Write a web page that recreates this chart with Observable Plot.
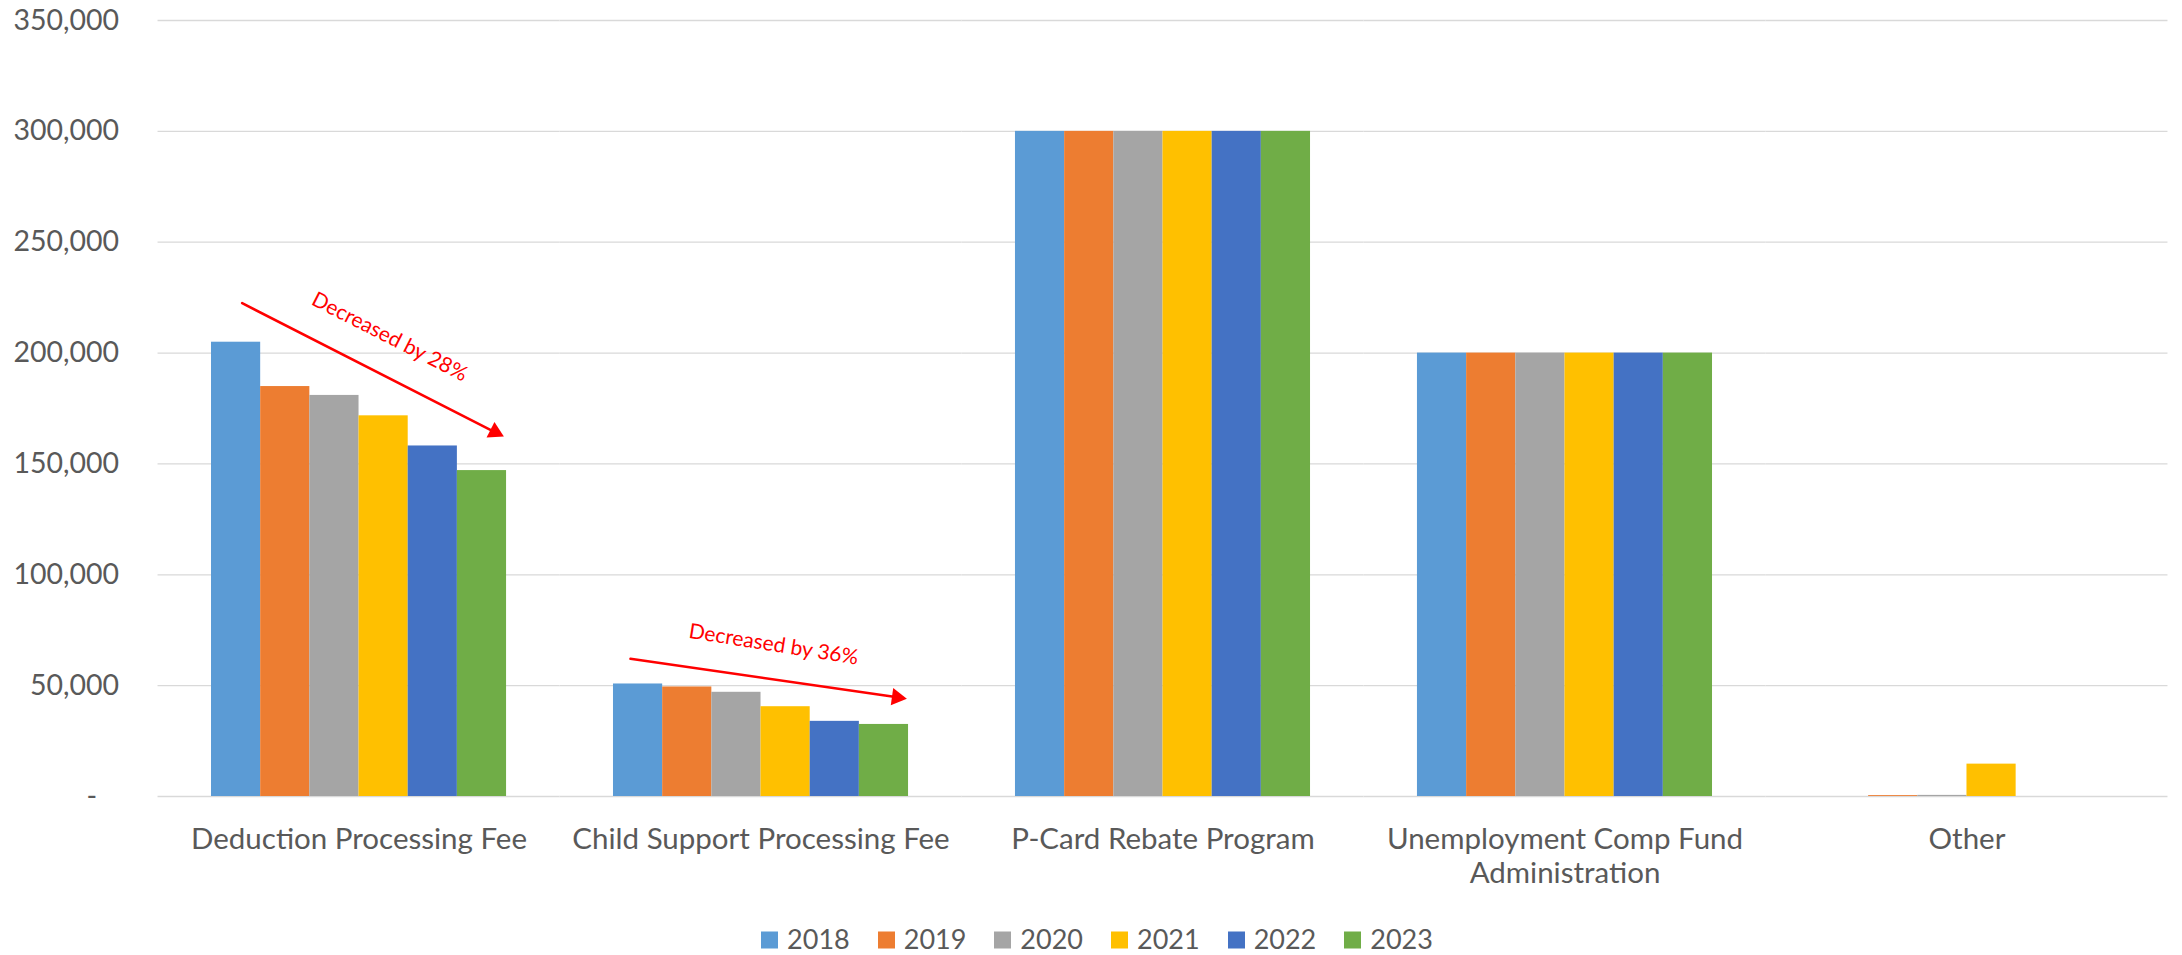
<!DOCTYPE html>
<html>
<head>
<meta charset="utf-8">
<script src="https://cdn.jsdelivr.net/npm/d3@7"></script>
<script src="https://cdn.jsdelivr.net/npm/@observablehq/plot@0.6"></script>
<style>
  html, body { margin: 0; padding: 0; background: #ffffff; }
  #chart svg { display: block; }
  .lg-swatches {
    font-family: Lato, sans-serif !important;
    font-size: 27px !important;
    color: #595959 !important;
    justify-content: center !important;
    margin: 22px 0 0 0 !important;
    padding-left: 12px;
    min-height: 33px;
  }
  .lg-swatch { margin-right: 28px !important; }
  .lg-swatch:last-child { margin-right: 0 !important; }
  .lg-swatch > svg { margin-right: 9px !important; transform: translateY(1.5px); }
</style>
</head>
<body>
<div id="chart"></div>
<script>
// ---- data ----
const categories = [
  "Deduction Processing Fee",
  "Child Support Processing Fee",
  "P-Card Rebate Program",
  "Unemployment Comp Fund Administration",
  "Other"
];
const categoryLabels = [
  "Deduction Processing Fee",
  "Child Support Processing Fee",
  "P-Card Rebate Program",
  "Unemployment Comp Fund\nAdministration",
  "Other"
];
const years = ["2018", "2019", "2020", "2021", "2022", "2023"];
const colors = ["#5B9BD5", "#ED7D31", "#A5A5A5", "#FFC000", "#4472C4", "#70AD47"];

const deductionFee    = [204900, 184900, 180900, 171700, 158100, 147000];
const childSupportFee = [50750, 49400, 47000, 40500, 33900, 32500];
const pCardRebate     = [300000, 300000, 300000, 300000, 300000, 300000];
const unemployment    = [200000, 200000, 200000, 200000, 200000, 200000];
const other           = [0, 400, 500, 14600, 0, 0];

const yTicks = [0, 50000, 100000, 150000, 200000, 250000, 300000, 350000];

const annotationLabels = ["Decreased by 28%", "Decreased by 36%"];
const annotationCategory = [categories[0], categories[1]];
const annotationStartValue = [223900, 61600];
const annotationEndValue = [167300, 45600];
const annotationHeadValue = [164400, 44700];
const annotationTextValue = [207300, 68550];

// ---- build table ----
const series = [deductionFee, childSupportFee, pCardRebate, unemployment, other];
const table = categories.flatMap((c, i) =>
  years.map((yr, j) => ({category: c, year: yr, value: series[i][j]}))
);
const labelOf = new Map(categories.map((c, i) => [c, categoryLabels[i]]));
const annotations = annotationLabels.map((t, i) => ({
  category: annotationCategory[i], label: t, from: "2018", to: "2023", textAt: "2021",
  yStart: annotationStartValue[i], yEnd: annotationEndValue[i],
  yHead: annotationHeadValue[i], yText: annotationTextValue[i]
}));
// per-annotation styling
const annStyle = [
  {insetStart: 6.8, insetEnd: -10, textDx: 6, textRotate: 27, headRotate: 117},
  {insetStart: -7.7, insetEnd: -10, textDx: -12, textRotate: 9, headRotate: 98}
];

// ---- layout ----
const W = 2182, H = 900;
const mL = 211, mR = 68, mT = 20, mB = H - 796;
const pad = 0.266;
const step = (W - mL - mR) / (categories.length - pad);
const gap = step * pad;

const annMarks = annotations.flatMap((a, i) => {
  const s = annStyle[i];
  return [
    Plot.arrow([a], {
      fx: "category", x1: "from", x2: "to", y1: "yStart", y2: "yEnd",
      stroke: "#FF0000", strokeWidth: 2.5, headLength: 0,
      insetStart: s.insetStart, insetEnd: s.insetEnd
    }),
    Plot.dot([a], {
      fx: "category", x: "to", y: "yHead", symbol: "triangle", r: 6.43,
      fill: "#FF0000", stroke: null, rotate: s.headRotate, dx: 13
    }),
    Plot.text([a], {
      fx: "category", x: "textAt", y: "yText", text: "label",
      rotate: s.textRotate, fill: "#FF0000", fontSize: 21,
      textAnchor: "middle", lineAnchor: "middle", dx: s.textDx
    })
  ];
});

const chart = Plot.plot({
  width: W,
  height: H,
  marginLeft: mL,
  marginRight: mR,
  marginTop: mT,
  marginBottom: mB,
  style: {fontFamily: "Lato, sans-serif", color: "#595959", background: "#ffffff", overflow: "visible"},
  fx: {domain: categories, paddingInner: pad, paddingOuter: 0, round: false, axis: null, label: null},
  x: {domain: years, padding: 0, round: false, axis: null, label: null},
  y: {domain: [0, 350000], label: null},
  color: {domain: years, range: colors},
  marks: [
    Plot.ruleY(yTicks, {stroke: "#D9D9D9", strokeWidth: 1.3, insetLeft: -gap / 2, insetRight: -gap / 2}),
    Plot.barY(table, {fx: "category", x: "year", y: "value", fill: "year"}),
    Plot.axisY({
      ticks: yTicks, tickSize: 0, tickPadding: 39 + gap / 2, fontSize: 28.5, label: null,
      fill: "#595959",
      tickFormat: d => d === 0 ? "-\u00a0\u00a0\u00a0" : d3.format(",")(d)
    }),
    Plot.text(categories, {
      fx: d => d, text: d => labelOf.get(d), frameAnchor: "bottom", lineAnchor: "top",
      dy: 28, fontSize: 29.5, lineHeight: 1.15, fill: "#595959"
    }),
    ...annMarks
  ]
});

document.getElementById("chart").appendChild(chart);
const legend = chart.legend("color", {swatchSize: 17, className: "lg"});
document.getElementById("chart").appendChild(legend);
</script>
</body>
</html>
